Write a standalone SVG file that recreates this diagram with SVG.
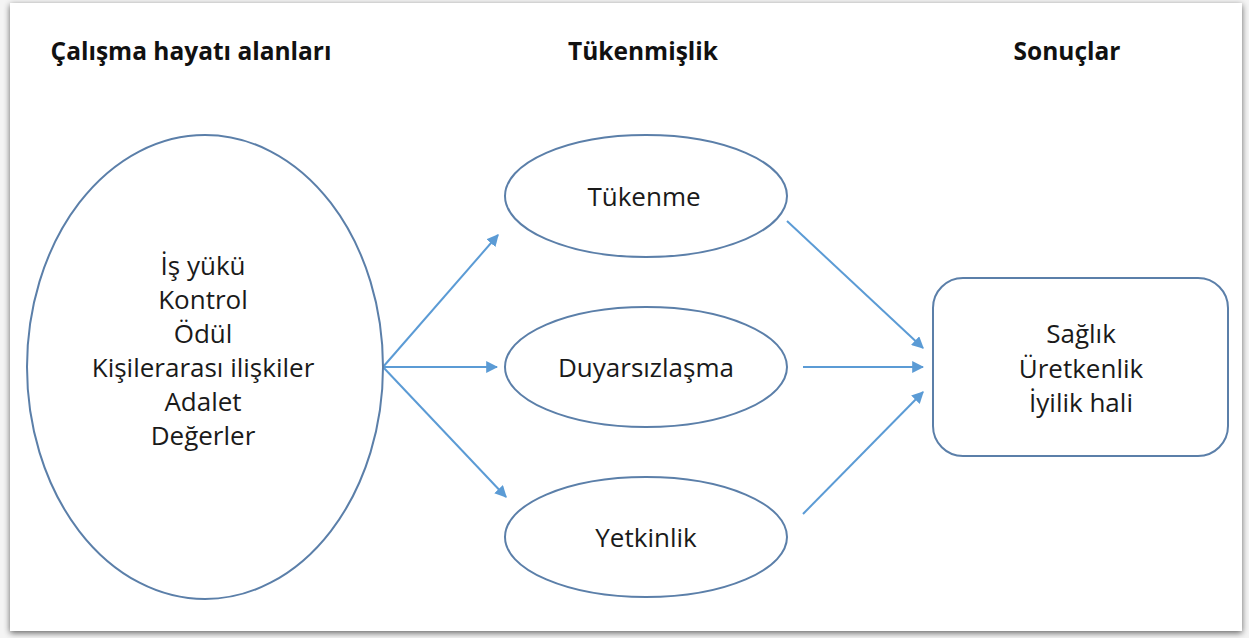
<svg xmlns="http://www.w3.org/2000/svg" width="1249" height="638" viewBox="0 0 1249 638">
  <style>
    .shape { fill: #ffffff; stroke: #5b7fa9; stroke-width: 2; }
    .label { font-family: "Open Sans", "Liberation Sans", sans-serif; font-size: 26px; fill: #1a1a1a; text-anchor: middle; }
    .title { font-family: "Open Sans", "Liberation Sans", sans-serif; font-size: 24.5px; font-weight: bold; fill: #111111; text-anchor: middle; }
    .link { fill: none; stroke: #5b9bd5; stroke-width: 2; marker-end: url(#arrow); }
  </style>
  <defs>
    <marker id="arrow" viewBox="0 0 10 10" refX="9" refY="5" markerWidth="6" markerHeight="6" orient="auto" markerUnits="strokeWidth">
      <path d="M0,0 L10,5 L0,10 z" fill="#5b9bd5"/>
    </marker>
    <filter id="shadow" x="-5%" y="-5%" width="110%" height="110%">
      <feGaussianBlur in="SourceAlpha" stdDeviation="3"/>
      <feOffset dx="0" dy="2"/>
      <feComponentTransfer><feFuncA type="linear" slope="0.6"/></feComponentTransfer>
      <feMerge><feMergeNode/><feMergeNode in="SourceGraphic"/></feMerge>
    </filter>
  </defs>

  <!-- page background and card -->
  <rect x="0" y="0" width="1249" height="638" fill="#f4f4f4"/>
  <rect x="10" y="3" width="1232" height="628" fill="#ffffff" filter="url(#shadow)"/>

  <!-- column headings -->
  <g id="headings">
    <text class="title" x="191" y="60">Çalışma hayatı alanları</text>
    <text class="title" x="643" y="60">Tükenmişlik</text>
    <text class="title" x="1067" y="60">Sonuçlar</text>
  </g>

  <!-- connectors -->
  <g id="connectors">
    <line class="link" x1="383" y1="367" x2="498" y2="235"/>
    <line class="link" x1="383" y1="367" x2="497" y2="367"/>
    <line class="link" x1="383" y1="367" x2="506" y2="497"/>
    <line class="link" x1="787" y1="221" x2="923" y2="348"/>
    <line class="link" x1="803" y1="367" x2="923" y2="367"/>
    <line class="link" x1="803" y1="514" x2="923" y2="392"/>
  </g>

  <!-- work-life areas -->
  <g id="node-areas">
    <ellipse class="shape" cx="205" cy="367" rx="178" ry="232"/>
    <text class="label" x="203" y="275">İş yükü</text>
    <text class="label" x="203" y="309">Kontrol</text>
    <text class="label" x="203" y="343">Ödül</text>
    <text class="label" x="203" y="377">Kişilerarası ilişkiler</text>
    <text class="label" x="203" y="411">Adalet</text>
    <text class="label" x="203" y="445">Değerler</text>
  </g>

  <!-- burnout dimensions -->
  <g id="node-exhaustion">
    <ellipse class="shape" cx="646" cy="196" rx="141" ry="61"/>
    <text class="label" x="644" y="206">Tükenme</text>
  </g>
  <g id="node-cynicism">
    <ellipse class="shape" cx="646" cy="367" rx="141" ry="60"/>
    <text class="label" x="646" y="377">Duyarsızlaşma</text>
  </g>
  <g id="node-efficacy">
    <ellipse class="shape" cx="646" cy="537" rx="141" ry="60"/>
    <text class="label" x="646" y="547">Yetkinlik</text>
  </g>

  <!-- outcomes -->
  <g id="node-outcomes">
    <rect class="shape" x="933" y="278" width="295" height="178" rx="30" ry="30"/>
    <text class="label" x="1081" y="343">Sağlık</text>
    <text class="label" x="1081" y="378">Üretkenlik</text>
    <text class="label" x="1081" y="412">İyilik hali</text>
  </g>
</svg>
